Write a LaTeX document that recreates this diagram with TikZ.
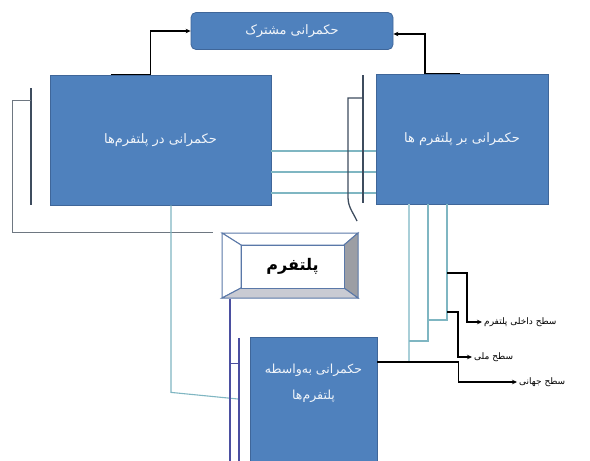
\documentclass[tikz,border=0pt]{standalone}
\usepackage{fontspec}
\usepackage{xcolor}
\usepackage{tikz}
\usetikzlibrary{positioning, arrows.meta}
\TeXXeTstate=1
\newfontfamily\farsi[Script=Arabic]{DejaVu Sans}
\definecolor{govblue}{HTML}{4F81BD}
\definecolor{govedge}{HTML}{3F6699}
\definecolor{tealgray}{HTML}{7FB6C2}
\definecolor{palteal}{HTML}{A9CFD8}
\definecolor{slateline}{HTML}{3E4C5E}
\definecolor{greyline}{HTML}{6E7781}
\definecolor{violetline}{HTML}{4B4FA0}
\definecolor{bevelrim}{HTML}{5A78A8}
\definecolor{bevelside}{HTML}{9C9EA4}
\definecolor{bevelfoot}{HTML}{C9CBD3}

\begin{document}
\begin{tikzpicture}[x=1pt, y=-1pt,
    govbox/.style={draw=govedge, fill=govblue, line width=0.8pt, text=white!92!govblue,
                   font=\farsi\fontsize{13}{15}\selectfont, inner sep=0pt},
    govtext/.style={text=white!92!govblue, font=\farsi\fontsize{12.5}{15}\selectfont, align=center},
    lvltext/.style={font=\farsi\fontsize{9}{10}\selectfont, anchor=west, inner sep=2pt},
    flow/.style={line width=1.5pt, -{Stealth[length=5pt, width=4.5pt]}},
    tealline/.style={draw=tealgray, line width=1.1pt},
    darkline/.style={draw=slateline, line width=1.3pt}]
  \useasboundingbox (0,0) rectangle (590,461);

  % blue boxes
  \node[govbox, rounded corners=5pt, minimum width=202pt, minimum height=37pt]
    (shared) at (292,31) {\beginR حکمرانی مشترک\endR};
  \node[govbox, minimum width=221pt, minimum height=130pt]
    (inbox) at (160.5,140) {\beginR حکمرانی در پلتفرم‌ها\endR};
  \node[govbox, minimum width=172pt, minimum height=130pt]
    (onbox) at (462,139) {\beginR حکمرانی بر پلتفرم ها\endR};
  \node[govbox, minimum width=127pt, minimum height=126pt]
    (viabox) at (313.5,400) {};
  \node[govtext, below=24pt of viabox.north] (viatext)
    {\beginR حکمرانی به‌واسطه\endR\\[11pt]\beginR پلتفرم‌ها\endR};

  % platform button
  \filldraw[draw=bevelrim, line width=1pt, fill=white]
    (222,233) -- (358,233) -- (344,245) -- (241,245) -- cycle;
  \filldraw[draw=bevelrim, line width=1pt, fill=white]
    (222,233) -- (241,245) -- (241,288) -- (222,298) -- cycle;
  \filldraw[draw=bevelrim, line width=1pt, fill=bevelside]
    (358,233) -- (358,298) -- (344,288) -- (344,245) -- cycle;
  \filldraw[draw=bevelrim, line width=1pt, fill=bevelfoot]
    (222,298) -- (358,298) -- (344,288) -- (241,288) -- cycle;
  \node[draw=bevelrim, line width=1pt, fill=white, minimum width=103pt, minimum height=43pt,
        font=\farsi\bfseries\fontsize{16}{18}\selectfont]
    (platform) at (292.5,266.5) {\beginR پلتفرم\endR};

  % arrows to the shared box
  \draw[flow] ([xshift=-50pt]inbox.north) -- ++(40,0) |- (shared.west);
  \draw[flow] ([xshift=-2pt]onbox.north) -- ++(-35,0) |- ([yshift=-3pt]shared.east);

  % lines on the left
  \draw[darkline] (31,88) -- (31,205);
  \draw[draw=greyline, line width=1pt] (31,100) -- (12,100) -- (12,232) -- (213,232);
  \draw[tealline] ([xshift=10.5pt]inbox.south) -- ++(0,187) -- (238,399);

  % lines between the two upper boxes
  \foreach \y in {151,172,193}
    \draw[tealline] (inbox.east |- 0,\y) -- (onbox.west |- 0,\y);
  \draw[darkline] (363,75) -- (363,203);
  \draw[darkline] (363,98) -- (348,98) -- (348,197) to[out=-90, in=115] (357,221);

  % lines beside the lower box
  \draw[draw=violetline, line width=1.3pt] (platform.south -| 230,0) ++(0,10) -- (230,470);
  \draw[draw=violetline, line width=1.3pt] (239,338) -- (239,470);
  \draw[draw=violetline, line width=1pt] (230,363) -- (239,363);

  % lines under the right box
  \draw[draw=palteal, line width=1.1pt] (409,204) -- (409,362);
  \draw[tealline] (428,204) -- (428,341) -- (409,341);
  \draw[tealline] (447,204) -- (447,320) -- (428,320);

  % levels
  \node[lvltext] (lvlin) at (482,322) {\beginR سطح داخلی پلتفرم\endR};
  \node[lvltext] (lvlnat) at (472,357) {\beginR سطح ملی\endR};
  \node[lvltext] (lvlglob) at (517,382) {\beginR سطح جهانی\endR};
  \coordinate (tapin) at (447,273);
  \coordinate (tapnat) at (447,312);
  \draw[flow] (tapin) -- ++(20,0) |- (lvlin.west);
  \draw[flow] (tapnat) -- ++(11,0) |- (lvlnat.west);
  \draw[flow] ([yshift=38pt]viabox.east) -- ++(81,0) |- (lvlglob.west);
\end{tikzpicture}
\end{document}
